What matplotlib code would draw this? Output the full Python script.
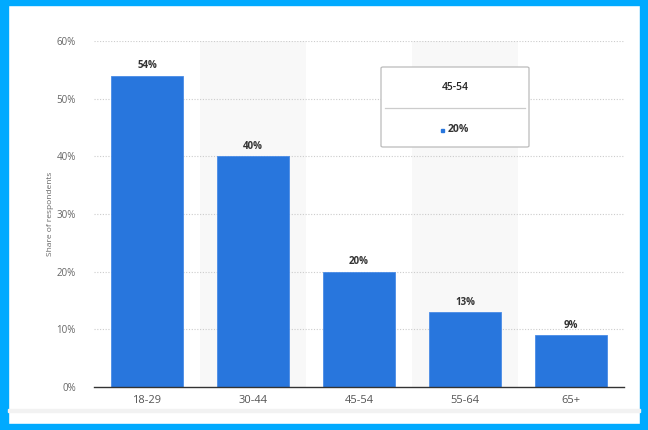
import matplotlib
matplotlib.use("Agg")
import matplotlib.pyplot as plt
from matplotlib.patches import Rectangle, FancyBboxPatch
from matplotlib.lines import Line2D

categories = ["18-29", "30-44", "45-54", "55-64", "65+"]
values = [54, 40, 20, 13, 9]
yticks = [0, 10, 20, 30, 40, 50, 60]
ylabel = "Share of respondents"
tooltip_cat = "45-54"
tooltip_val = "20%"

plt.rcParams['font.family'] = ['Open Sans', 'DejaVu Sans']

W, H = 648, 430
fig = plt.figure(figsize=(W / 100, H / 100), dpi=100)
fig.patch.set_facecolor('white')

# frame border
border = '#00aaff'
fig.patches.append(Rectangle((0, 0), 8 / W, 1, transform=fig.transFigure, color=border, zorder=0))
fig.patches.append(Rectangle((640 / W, 0), 8 / W, 1, transform=fig.transFigure, color=border, zorder=0))
fig.patches.append(Rectangle((0, 1 - 5 / H), 1, 5 / H, transform=fig.transFigure, color=border, zorder=0))
fig.patches.append(Rectangle((0, 0), 1, 6 / H, transform=fig.transFigure, color=border, zorder=0))
# faint shade line near bottom
fig.patches.append(Rectangle((8 / W, (430 - 412) / H), 632 / W, 3 / H, transform=fig.transFigure,
                             color='#f2f2f2', zorder=0))

left, right = 94 / W, 624 / W
bottom, top = (430 - 387) / H, (430 - 41) / H
ax = fig.add_axes([left, bottom, right - left, top - bottom])
ax.set_facecolor('none')

x = list(range(len(categories)))
# alternating background bands
for i in x:
    if i % 2 == 1:
        ax.axvspan(i - 0.5, i + 0.5, color='#f8f8f8', zorder=0, lw=0)

for yt in yticks[1:]:
    ax.axhline(yt, color='#cccccc', lw=0.8, ls=(0, (1, 1.5)), zorder=1)

bars = ax.bar(x, values, width=0.68, color='#2876dd', edgecolor='#4a8ce6', linewidth=0.6, zorder=2)
for xi, v in zip(x, values):
    ax.text(xi, v + 1.25, f"{v}%", ha='center', va='baseline', fontsize=7, fontweight='bold',
            color='#333333', zorder=3)

ax.set_xlim(-0.5, len(categories) - 0.5)
ax.set_ylim(0, 60)
ax.set_yticks(yticks)
ax.set_yticklabels([f"{t}%" for t in yticks], fontsize=7, color='#666666')
ax.set_xticks(x)
ax.set_xticklabels(categories, fontsize=8, color='#555555')
ax.tick_params(axis='both', length=0)
ax.tick_params(axis='y', pad=13)
ax.tick_params(axis='x', pad=6)
for s in ['top', 'right', 'left']:
    ax.spines[s].set_visible(False)
ax.spines['bottom'].set_color('#333333')
ax.spines['bottom'].set_linewidth(1.0)
ax.spines['bottom'].set_zorder(4)

fig.text(50 / W, (430 - 214) / H, ylabel, rotation=90, ha='center', va='center',
         fontsize=6, color='#666666')

# tooltip box
bx0, by0, bx1, by1 = 381, 67, 529, 147
fig.patches.append(FancyBboxPatch((bx0 / W, 1 - by1 / H), (bx1 - bx0) / W, (by1 - by0) / H,
                                  boxstyle="round,pad=0,rounding_size=0.003",
                                  transform=fig.transFigure, facecolor='white',
                                  edgecolor='#bbbbbb', linewidth=0.9, zorder=5))
fig.text((bx0 + bx1) / 2 / W, 1 - 88 / H, tooltip_cat, ha='center', va='center', fontsize=7.5,
         fontweight='semibold', color='#222222', zorder=6)
fig.lines.append(Line2D([(bx0 + 4) / W, (bx1 - 4) / W], [1 - 107.5 / H, 1 - 107.5 / H],
                        transform=fig.transFigure, color='#cccccc', lw=0.9, zorder=6))
fig.text(458 / W, 1 - 130 / H, tooltip_val, ha='center', va='center', fontsize=7.5,
         fontweight='bold', color='#333333', zorder=6)
fig.patches.append(Rectangle((441 / W, 1 - 131.5 / H), 2.5 / W, 2.5 / H, transform=fig.transFigure,
                             color='#2876dd', zorder=6))

fig.savefig('out.png', dpi=100)
